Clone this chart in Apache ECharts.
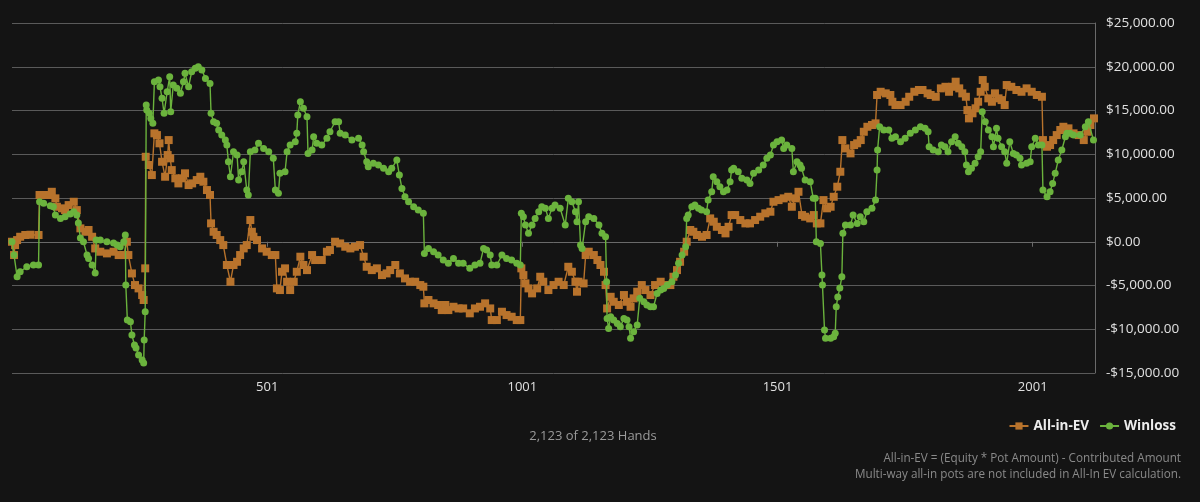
<!DOCTYPE html>
<html>
<head>
<meta charset="utf-8">
<script src="https://cdn.jsdelivr.net/npm/echarts@6/dist/echarts.min.js"></script>
<style>
html,body{margin:0;padding:0;background:#141414;}
#chart{width:1200px;height:502px;}
</style>
</head>
<body>
<div id="chart"></div>
<script>
// ---- Data (hand number, cumulative $) ----
const evHands = [1,5,7,11,17,27,37,53,55,63,73,79,86,89,99,105,112,122,128,135,145,151,158,164,174,187,200,210,220,226,229,236,242,249,256,259,262,263,269,275,280,285,290,295,301,306,308,311,314,321,327,334,340,347,354,363,370,376,383,389,391,396,402,409,415,422,429,435,442,448,455,461,468,471,474,481,491,500,510,517,520,526,530,536,540,546,553,559,566,572,579,589,595,608,618,624,634,644,654,664,673,683,690,696,706,716,726,735,742,752,761,771,781,791,801,807,809,817,827,836,843,850,856,866,876,885,898,908,918,928,938,941,951,961,970,980,990,997,999,1003,1007,1013,1020,1030,1036,1042,1052,1062,1072,1082,1091,1098,1105,1108,1111,1121,1125,1131,1141,1148,1154,1161,1164,1167,1174,1180,1190,1200,1206,1213,1219,1226,1235,1242,1252,1261,1272,1281,1291,1297,1304,1310,1318,1323,1330,1336,1343,1353,1362,1369,1376,1382,1392,1399,1405,1411,1418,1428,1438,1447,1457,1467,1477,1487,1493,1503,1513,1522,1529,1536,1542,1549,1555,1565,1572,1578,1585,1591,1598,1605,1611,1618,1624,1628,1634,1644,1651,1657,1664,1670,1677,1686,1693,1696,1703,1713,1722,1726,1732,1742,1752,1759,1769,1778,1785,1795,1801,1811,1821,1830,1837,1843,1850,1857,1863,1870,1873,1876,1883,1889,1894,1899,1903,1907,1914,1921,1927,1934,1940,1946,1950,1959,1969,1979,1989,1999,2009,2019,2021,2029,2035,2041,2048,2055,2061,2071,2081,2091,2101,2108,2114,2121];
const evValues = [0,-1520,-380,190,570,770,800,770,5340,5340,5340,5710,4960,4000,3820,3620,4190,4570,3620,1530,1140,1340,570,-760,-1140,-1330,-1140,-1520,-1520,0,-1520,-3620,-4950,-5330,-6090,-6660,-3040,9710,8770,7620,12390,12190,11250,9140,7430,9910,11620,9530,8190,7250,6670,7250,7820,6480,6670,7050,7430,6860,5910,5340,2100,1140,770,190,-380,-2660,-4570,-2660,-2290,-1520,-760,-380,2480,1140,570,190,-760,-1140,-1520,-1520,-5330,-5520,-3430,-3040,-4570,-5520,-4570,-3430,-1710,-2660,-3240,-1520,-2090,-2090,-1140,-950,0,-190,-570,-760,-570,-380,-1710,-2860,-3240,-3040,-3810,-3620,-3240,-2660,-3620,-4190,-4570,-4570,-4950,-5140,-7040,-6660,-7040,-7230,-7810,-7230,-7810,-7430,-7620,-7620,-8180,-7620,-7430,-7040,-7620,-8950,-8950,-8000,-8380,-8570,-8950,-8950,-3040,-3810,-4760,-5330,-5900,-5330,-4000,-4570,-5520,-4950,-4570,-4950,-2860,-3430,-4570,-5710,-4570,-4760,-1520,-1140,-1520,-2090,-2660,-3430,-4950,-7620,-6290,-6860,-7230,-6090,-6860,-7430,-6470,-5710,-4950,-5520,-6090,-4950,-4570,-4950,-4950,-4000,-3240,-2290,-1140,0,1340,1140,770,570,770,2670,2290,1710,1340,960,1710,3050,3050,2480,2100,2100,2480,2860,3250,3430,4570,4760,4960,5140,4000,4960,5710,3050,2860,2670,3050,2100,2100,4760,3820,4000,5140,6290,8000,11620,10670,10100,11050,11250,11620,12570,13140,13340,13530,16770,17140,16960,16770,16000,15620,15620,16000,16570,17140,17340,17340,16960,16770,16570,17530,17710,17140,17710,18290,17530,16960,16570,15050,14100,14680,15250,16000,17140,18480,17710,16390,16000,16960,16390,16190,15620,17910,17710,17340,17140,17530,17140,16770,16570,11620,10860,11050,11620,12190,12770,13140,12960,12390,12190,11620,12570,13340,14100];

const wlHands = [1,5,11,17,30,43,53,55,63,76,82,86,96,105,115,122,128,131,135,141,148,151,158,164,166,174,187,200,207,213,220,223,224,227,233,236,241,244,249,256,259,260,262,264,265,270,273,277,280,288,291,295,299,305,310,312,317,324,331,337,340,347,353,360,366,373,380,389,391,396,402,406,412,419,422,425,429,435,442,445,451,455,461,464,468,477,484,494,504,513,517,523,526,536,540,546,556,559,561,566,572,579,581,589,592,598,608,618,624,634,641,644,654,667,680,687,690,696,699,709,719,729,739,745,755,760,765,771,778,788,797,807,809,817,827,836,846,856,866,876,885,898,908,918,925,931,938,941,951,961,970,980,990,997,999,1003,1007,1013,1020,1026,1033,1039,1046,1052,1059,1065,1075,1085,1091,1098,1105,1108,1111,1115,1118,1125,1131,1141,1151,1157,1164,1166,1167,1170,1174,1180,1187,1193,1200,1206,1210,1213,1219,1226,1231,1239,1245,1252,1258,1265,1272,1278,1285,1294,1301,1307,1314,1321,1323,1326,1333,1339,1346,1352,1362,1365,1372,1375,1382,1388,1395,1402,1408,1411,1415,1424,1431,1441,1447,1454,1464,1473,1480,1487,1493,1500,1509,1513,1519,1529,1532,1539,1545,1548,1555,1565,1571,1575,1577,1585,1588,1589,1593,1595,1605,1611,1614,1616,1619,1623,1627,1629,1634,1644,1649,1657,1663,1670,1676,1686,1693,1696,1697,1701,1709,1719,1725,1732,1742,1751,1761,1771,1781,1790,1796,1798,1806,1816,1822,1829,1835,1842,1849,1855,1862,1868,1871,1875,1881,1888,1894,1899,1902,1908,1914,1921,1924,1930,1933,1940,1946,1950,1956,1963,1969,1976,1979,1989,1996,1999,2006,2012,2019,2021,2029,2035,2040,2045,2051,2058,2065,2068,2074,2081,2094,2104,2110,2120];
const wlValues = [0,-1520,-4000,-3430,-2860,-2660,-2660,4570,4390,4110,4000,3050,2670,2860,3170,3430,3050,2140,420,0,-1520,-1900,-2660,-3580,190,190,0,-150,-380,-570,0,770,-4950,-8950,-9140,-10660,-11810,-12150,-12950,-13520,-13870,-11240,-8000,15620,15050,14680,14100,13530,18290,18480,17710,16390,14680,17140,18860,14860,17910,17530,16960,18290,19250,17710,19430,19820,20000,19620,18670,18100,14680,13710,13530,12770,12190,11620,11050,9140,7430,10290,9910,7050,8000,9140,5910,5340,10290,10480,11250,10670,10290,9530,5910,5530,7820,8000,10290,11050,11430,12390,14480,16000,15250,14290,10100,10480,12000,11250,11050,11820,12570,13710,13710,12390,12190,11620,11820,11050,10290,9140,8570,8960,8770,8390,8000,8390,9340,7620,6100,5140,4570,4000,3620,3250,-1330,-760,-1140,-1520,-2090,-2470,-1900,-2470,-2470,-3040,-2660,-2470,-760,-950,-1520,-2660,-2660,-1520,-1900,-2090,-2470,-2660,3250,2860,1910,960,1910,2670,3430,4000,3820,2670,3820,4190,3820,1910,4960,4570,3430,2290,4570,-380,-760,2290,2860,2670,1910,960,570,-4570,-8760,-9900,-8570,-8950,-9330,-9710,-8760,-8950,-9710,-11040,-10290,-9520,-6470,-6860,-7230,-7430,-7430,-5900,-5520,-5330,-4950,-4570,-3810,-2470,-1520,-570,2670,3050,4000,4190,3820,3620,3430,4760,5710,7430,6860,6290,5710,5910,6860,8190,8390,8000,7250,7050,6670,7820,8190,8770,9530,9910,11050,11430,11620,10670,11050,10670,8000,9140,8770,8390,7050,6860,4960,4960,0,-190,-3810,-4950,-10090,-11040,-11040,-10860,-10470,-7430,-6320,-5290,-4000,960,1910,1910,3050,2100,2860,2290,3430,3820,4760,8190,10480,13140,12770,12770,11820,12000,11430,11820,12390,12770,13140,12960,12570,10860,10480,10290,11050,10860,10290,11430,12000,11250,10860,10290,8770,8000,8390,8960,9710,10290,14860,13710,12770,12000,10860,12960,11820,10860,10290,8960,11430,10100,9910,9530,8770,8960,9140,10860,11820,11050,11050,5910,5140,5710,6670,7820,9340,10480,12000,12390,12390,12190,12190,13140,13710,11620];

const seriesNames = ['All-in-EV', 'Winloss'];
const xTickLabels = [501, 1001, 1501, 2001];
const totalHands = 2123;
const footnotes = ['All-in-EV = (Equity * Pot Amount) - Contributed Amount',
                   'Multi-way all-in pots are not included in All-In EV calculation.'];

function zip(a, b) { const n = Math.min(a.length, b.length); const out = []; for (let i = 0; i < n; i++) out.push([a[i], b[i]]); return out; }
function money(v) {
  const abs = Math.abs(v).toFixed(2);
  const parts = abs.split('.');
  parts[0] = parts[0].replace(/\B(?=(\d{3})+(?!\d))/g, ',');
  return (v < 0 ? '-' : '') + '$' + parts.join('.');
}
function thousands(n) { return String(n).replace(/\B(?=(\d{3})+(?!\d))/g, ','); }

const FONT = "'Open Sans', 'Noto Sans', sans-serif";
const chart = echarts.init(document.getElementById('chart'), null, { renderer: 'canvas' });
chart.setOption({
  backgroundColor: '#141414',
  animation: false,
  textStyle: { fontFamily: FONT },
  grid: { left: 12, right: 105, top: 23, bottom: 129, containLabel: false },
  legend: {
    data: seriesNames,
    right: 19, top: 414,
    itemWidth: 19, itemHeight: 9, itemGap: 10,
    textStyle: { color: '#ececec', fontSize: 13.5, fontWeight: 'bold', fontFamily: FONT }
  },
  xAxis: {
    type: 'value', min: 1, max: totalHands,
    axisLine: { show: true, lineStyle: { color: '#6a6a6a', width: 1 } },
    axisTick: { show: true, customValues: xTickLabels, length: 5, lineStyle: { color: '#6a6a6a' } },
    axisLabel: { customValues: xTickLabels, formatter: function (v) { return String(v); }, color: '#e0e0e0', fontSize: 13, margin: 8, fontFamily: FONT },
    splitLine: { show: false }
  },
  yAxis: {
    type: 'value', position: 'right', min: -15000, max: 25000, interval: 5000,
    axisLine: { show: true, lineStyle: { color: '#6a6a6a', width: 1 } },
    axisTick: { show: false },
    axisLabel: { color: '#e0e0e0', fontSize: 13.5, margin: 11, formatter: money, fontFamily: FONT },
    splitLine: { show: true, lineStyle: { color: '#5a5a5a', width: 1 } }
  },
  graphic: [
    { type: 'text', x: 593, y: 436, style: { text: thousands(totalHands) + ' of ' + thousands(totalHands) + ' Hands', fill: '#9a9a9a', font: "13px 'Open Sans'", textAlign: 'center', textVerticalAlign: 'middle' } },
    { type: 'text', x: 1181, y: 459, style: { text: footnotes[0], fill: '#8a8a8a', font: "11.7px 'Open Sans'", textAlign: 'right', textVerticalAlign: 'middle' } },
    { type: 'text', x: 1181, y: 475, style: { text: footnotes[1], fill: '#8a8a8a', font: "11.7px 'Open Sans'", textAlign: 'right', textVerticalAlign: 'middle' } }
  ],
  series: [
    {
      name: seriesNames[0], type: 'line', data: zip(evHands, evValues),
      symbol: 'rect', symbolSize: 8, showSymbol: true, showAllSymbol: true,
      itemStyle: { color: '#b8732c' }, lineStyle: { color: '#b8732c', width: 1.4 }, z: 2
    },
    {
      name: seriesNames[1], type: 'line', data: zip(wlHands, wlValues),
      symbol: 'circle', symbolSize: 7, showSymbol: true, showAllSymbol: true,
      itemStyle: { color: '#6bb33d' }, lineStyle: { color: '#6bb33d', width: 1.4 }, z: 3
    }
  ]
});
</script>
</body>
</html>
